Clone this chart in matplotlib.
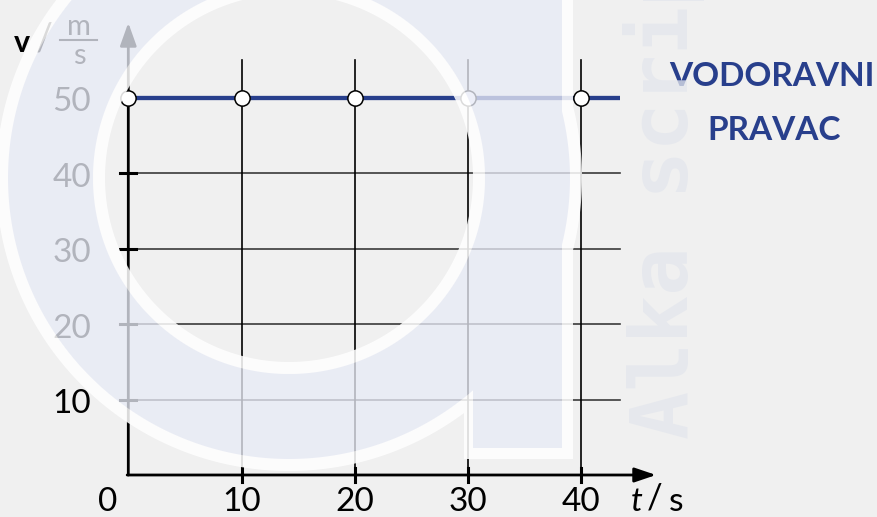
import numpy as np
import matplotlib
matplotlib.use("Agg")
import matplotlib.pyplot as plt

# data
t_ticks = [10, 20, 30, 40]
v_ticks = [10, 20, 30, 40, 50]
t = [0, 10, 20, 30, 40]
v = [50, 50, 50, 50, 50]

BG = "#f0f0f0"
BLUE = "#283f8c"
W, H = 878, 517

plt.rcParams["font.family"] = ["Lato", "DejaVu Sans"]

# pixel <-> data helpers (origin and scale of the drawn axes)
PX0, PY0, SX, SY = 128.3, 475.0, 11.325, 7.55


def dx(px):
    return (px - PX0) / SX


def dy(py):
    return (PY0 - py) / SY


fig = plt.figure(figsize=(W / 100, H / 100), dpi=100, facecolor=BG)
ax = fig.add_axes([0, 0, 1, 1])
ax.set_xlim(dx(0), dx(W))
ax.set_ylim(dy(H), dy(0))
ax.axis("off")

t_end = t[-1] + 3.4     # line runs a bit past the last point
grid_top = 55.0

# grid
for y in v_ticks[:-1]:
    ax.plot([dx(120), t_end], [y, y], color="#3a3a3a", lw=1.2, zorder=1)
    ax.plot([dx(120), dx(136)], [y, y], color="k", lw=2.2, zorder=2)
for x in t_ticks:
    ax.plot([x, x], [0, grid_top], color="k", lw=1.2, zorder=1)
    ax.plot([x, x], [dy(468), dy(482)], color="k", lw=2.2, zorder=2)

# axes with arrows
ax.annotate("", xy=(46.6, 0), xytext=(-0.1, 0),
            arrowprops=dict(arrowstyle="-|>,head_length=0.65,head_width=0.22",
                            mutation_scale=20, lw=2.0, color="k",
                            shrinkA=0, shrinkB=0), zorder=3)
ax.annotate("", xy=(0, 59.9), xytext=(0, 0),
            arrowprops=dict(arrowstyle="-|>,head_length=0.7,head_width=0.25",
                            mutation_scale=20, lw=2.0, color="k",
                            shrinkA=0, shrinkB=0), zorder=3)

# the horizontal line and points
ax.plot([t[0], t_end], [v[0], v[-1]], color=BLUE, lw=3.1, zorder=4,
        solid_capstyle="butt")
ax.plot(t, v, "o", ms=11, mfc="white", mec="k", mew=1.1, zorder=5)

# tick labels
for y in v_ticks:
    ax.text(dx(91), y - 0.6, str(y), ha="right", va="center", fontsize=24)
ax.text(dx(108), dy(502), "0", ha="center", va="center", fontsize=24)
for x in t_ticks:
    ax.text(x, dy(502), str(x), ha="center", va="center", fontsize=24)

# axis names
ax.text(dx(637), dy(502), "t", ha="center", va="center", fontsize=24, style="italic")
ax.text(dx(655), dy(499), "/", ha="center", va="center", fontsize=25)
ax.text(dx(676), dy(502), "s", ha="center", va="center", fontsize=24)

ax.text(dx(21.5), dy(43), "v", ha="center", va="center", fontsize=22, fontweight="bold")
ax.text(dx(44), dy(40), "/", ha="center", va="center", fontsize=27)
ax.text(dx(79), dy(27), "m", ha="center", va="center", fontsize=21)
ax.plot([dx(60), dx(97)], [dy(40), dy(40)], color="k", lw=1.5)
ax.text(dx(79), dy(56), "s", ha="center", va="center", fontsize=21)

ax.text(dx(772), dy(77), "VODORAVNI", ha="center", va="center",
        fontsize=24, fontweight="bold", color=BLUE)
ax.text(dx(774), dy(130), "PRAVAC", ha="center", va="center",
        fontsize=24, fontweight="bold", color=BLUE)

# watermark overlay ("a" logo + vertical text)
ov = fig.add_axes([0, 0, 1, 1])
ov.set_xlim(0, W)
ov.set_ylim(H, 0)
ov.axis("off")
ov.patch.set_alpha(0)

yy, xx = np.mgrid[0:H, 0:W] + 0.5


def disk(cx, cy, r):
    return np.clip(r - np.hypot(xx - cx, yy - cy) + 0.5, 0, 1)


def rect(x0, x1, y0, y1):
    cx = np.clip(np.minimum(xx - x0, x1 - xx) + 0.5, 0, 1)
    cy = np.clip(np.minimum(yy - y0, y1 - yy) + 0.5, 0, 1)
    return cx * cy


blue = np.minimum(np.maximum(disk(289, 178, 281), rect(473, 562, -50, 448)),
                  1 - disk(289, 178, 196))
glyph = np.minimum(np.maximum(disk(289, 178, 293), rect(464, 573, -50, 459)),
                   1 - disk(289, 178, 184))
white = np.clip(glyph - blue, 0, 1)

ab = 0.77 * blue
aw = 0.86 * white
alpha = ab + aw
cb = np.array([0.912, 0.925, 0.968])
rgb = (cb[None, None, :] * ab[..., None] + aw[..., None]) / np.maximum(alpha, 1e-6)[..., None]
img = np.dstack([rgb, alpha])
ov.imshow(img, extent=(0, W, H, 0), interpolation="nearest", zorder=1)

ov.text(688, 439, "Alka script", rotation=90, rotation_mode="anchor",
        ha="left", va="baseline", fontsize=57.6, fontweight="bold",
        family="DejaVu Sans Mono", color=(0.89, 0.90, 0.93), alpha=0.77, zorder=2)

fig.savefig("out.png", dpi=100, facecolor=BG)
